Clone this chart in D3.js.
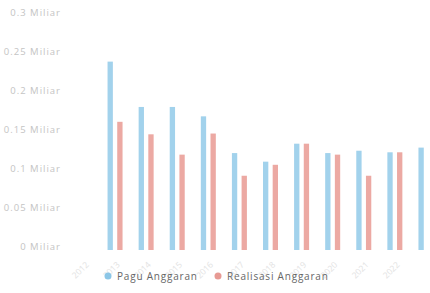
<!DOCTYPE html>
<html>
<head>
<meta charset="utf-8">
<script src="https://cdn.jsdelivr.net/npm/d3@7"></script>
<style>
  body { margin: 0; background: #fff; }
  svg { display: block; font-family: "Open Sans", sans-serif; }
</style>
</head>
<body>
<div id="chart"></div>
<script>
// data
const years = ["2012", "2013", "2014", "2015", "2016", "2017", "2018", "2019", "2020", "2021", "2022"];
const pagu = [0.241, 0.183, 0.183, 0.171, 0.124, 0.113, 0.136, 0.124, 0.127, 0.125, 0.131];
const realisasi = [0.164, 0.148, 0.122, 0.149, 0.095, 0.109, 0.136, 0.122, 0.095, 0.125, null];
const yTicks = [0, 0.05, 0.1, 0.15, 0.2, 0.25, 0.3];
const seriesNames = ["Pagu Anggaran", "Realisasi Anggaran"];
const colors = ["#a2d2ec", "#eca9a3"];
const dotColors = ["#8cc6e6", "#e79a94"];

const width = 430, height = 293;

const svg = d3.select("#chart")
  .append("svg")
  .attr("width", width)
  .attr("height", height);

// scales
const xScale = d3.scaleBand()
  .domain(years)
  .range([99.5, 441.5]);

const subScale = d3.scaleBand()
  .domain([0, 1])
  .range([0, 15])
  .paddingInner(0.45);

const yScale = d3.scaleLinear()
  .domain([0, 0.3])
  .range([250, 15.5]);

// y axis
const yAxis = svg.append("g")
  .attr("transform", "translate(61, 0)")
  .call(d3.axisLeft(yScale)
    .tickValues(yTicks)
    .tickSize(0)
    .tickPadding(0)
    .tickFormat(d => d3.format("~g")(d) + " Miliar"));
yAxis.select(".domain").remove();
yAxis.selectAll("text")
  .attr("fill", "#c4c4c4")
  .attr("font-size", 9.5)
  .attr("letter-spacing", 1)
  .attr("dy", "-0.05em")
  .style("font-family", "'Open Sans', sans-serif");

// x axis
const xAxis = svg.append("g")
  .attr("transform", "translate(0, 252)")
  .call(d3.axisBottom(xScale).tickSize(0).tickPadding(0));
xAxis.select(".domain").remove();
xAxis.selectAll("text")
  .attr("fill", "#e2e2e2")
  .attr("font-size", 8.5)
  .attr("text-anchor", "end")
  .attr("transform", "translate(-30, 9) rotate(-45)")
  .style("font-family", "'Open Sans', sans-serif");

// bars
const groupOffset = xScale.bandwidth() / 2 - 7.5;
[pagu, realisasi].forEach((values, s) => {
  svg.append("g")
    .selectAll("rect")
    .data(years.map((y, i) => ({ year: y, value: values[i] })).filter(d => d.value != null))
    .join("rect")
    .attr("x", d => xScale(d.year) + groupOffset + subScale(s))
    .attr("y", d => yScale(d.value))
    .attr("width", subScale.bandwidth())
    .attr("height", d => yScale(0) - yScale(d.value))
    .attr("fill", colors[s]);
});

// legend
const legendX = [108, 218];
const legend = svg.append("g");
seriesNames.forEach((name, i) => {
  legend.append("circle")
    .attr("cx", legendX[i])
    .attr("cy", 276)
    .attr("r", 3.5)
    .attr("fill", dotColors[i]);
  legend.append("text")
    .attr("x", legendX[i] + 9)
    .attr("y", 279.5)
    .attr("font-size", 10)
    .attr("letter-spacing", 0.8)
    .attr("fill", "#666")
    .text(name);
});
</script>
</body>
</html>
